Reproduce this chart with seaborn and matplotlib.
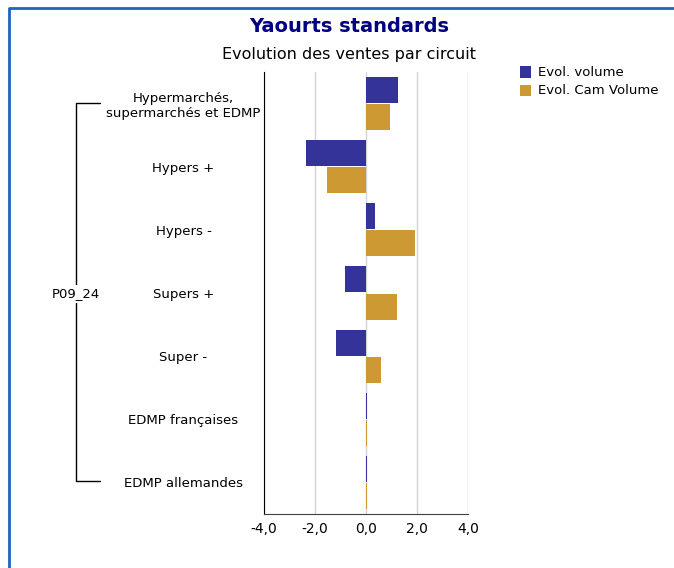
import pandas as pd
import matplotlib
matplotlib.use("Agg")
import matplotlib.pyplot as plt
from matplotlib.lines import Line2D
from matplotlib.patches import Rectangle
import seaborn as sns

# Data
circuits = [
    "Hypermarchés,\nsupermarchés et EDMP",
    "Hypers +",
    "Hypers -",
    "Supers +",
    "Super -",
    "EDMP françaises",
    "EDMP allemandes",
]
evol_volume = [1.24, -2.35, 0.35, -0.82, -1.18, 0.05, 0.04]
evol_cam_volume = [0.94, -1.53, 1.92, 1.22, 0.59, 0.04, 0.03]
series = ["Evol. volume", "Evol. Cam Volume"]
colors = ["#333399", "#CC9933"]
xticks = [-4, -2, 0, 2, 4]
group_label = "P09_24"

df = pd.DataFrame({
    "circuit": circuits * 2,
    "serie": [series[0]] * len(circuits) + [series[1]] * len(circuits),
    "value": evol_volume + evol_cam_volume,
})

sns.set_style("white")
plt.rcParams["font.family"] = ["DejaVu Sans"]
plt.rcParams["text.color"] = "black"
plt.rcParams["xtick.color"] = "black"
plt.rcParams["ytick.color"] = "black"

fig = plt.figure(figsize=(6.74, 5.68), dpi=100)
ax = fig.add_axes([0.3917, 0.0951, 0.3027, 0.7781])

sns.barplot(
    data=df, x="value", y="circuit", hue="serie", order=circuits,
    hue_order=series, palette=colors, orient="h", width=0.86, gap=0.04,
    saturation=1, linewidth=0, ax=ax, legend=False,
)

ax.set_xlim(-4, 4)
ax.set_xticks(xticks)
ax.set_xticklabels([f"{v:.1f}".replace(".", ",") for v in xticks], fontsize=10)
ax.xaxis.grid(True, color="#d4d4d4", linewidth=1)
ax.set_axisbelow(True)
ax.set_xlabel("")
ax.set_ylabel("")
ax.tick_params(axis="both", length=0, labelcolor="black")
ax.tick_params(axis="x", pad=6)
ax.tick_params(axis="y", pad=58)
for lab in ax.get_yticklabels():
    lab.set_horizontalalignment("center")
    lab.set_fontsize(9.5)
for s in ["top", "right"]:
    ax.spines[s].set_visible(False)
ax.spines["left"].set_color("black")
ax.spines["bottom"].set_color("#404040")

# bracket on the left grouping all circuits
x0, x1 = 76 / 674, 100 / 674
ytop, ybot = 1 - 103 / 568, 1 - 481 / 568
fig.add_artist(Line2D([x1, x0, x0, x1], [ytop, ytop, ybot, ybot],
                      color="black", linewidth=1))
fig.text(x0, 1 - 294 / 568, group_label, ha="center", va="center", fontsize=9.5,
         bbox=dict(facecolor="white", edgecolor="none", pad=2))

# titles
fig.text(0.518, 1 - 27 / 568, "Yaourts standards", ha="center", va="center",
         fontsize=14, fontweight="bold", color="#000080")
fig.text(0.518, 1 - 55 / 568, "Evolution des ventes par circuit", ha="center",
         va="center", fontsize=11.5)

# legend
for i, (name, c) in enumerate(zip(series, colors)):
    yc = 1 - (72 + 19 * i) / 568
    fig.add_artist(Rectangle((520 / 674, yc - 5.5 / 568), 11 / 674, 11 / 568,
                             facecolor=c, edgecolor="none"))
    fig.text(538 / 674, yc, name, ha="left", va="center", fontsize=9.5)

# blue frame on top and left
fig.add_artist(Line2D([9 / 674, 9 / 674, 1], [0, 1 - 8 / 568, 1 - 8 / 568],
                      color="#1f64c0", linewidth=2))

fig.savefig("out.png", dpi=100)
plt.close(fig)
